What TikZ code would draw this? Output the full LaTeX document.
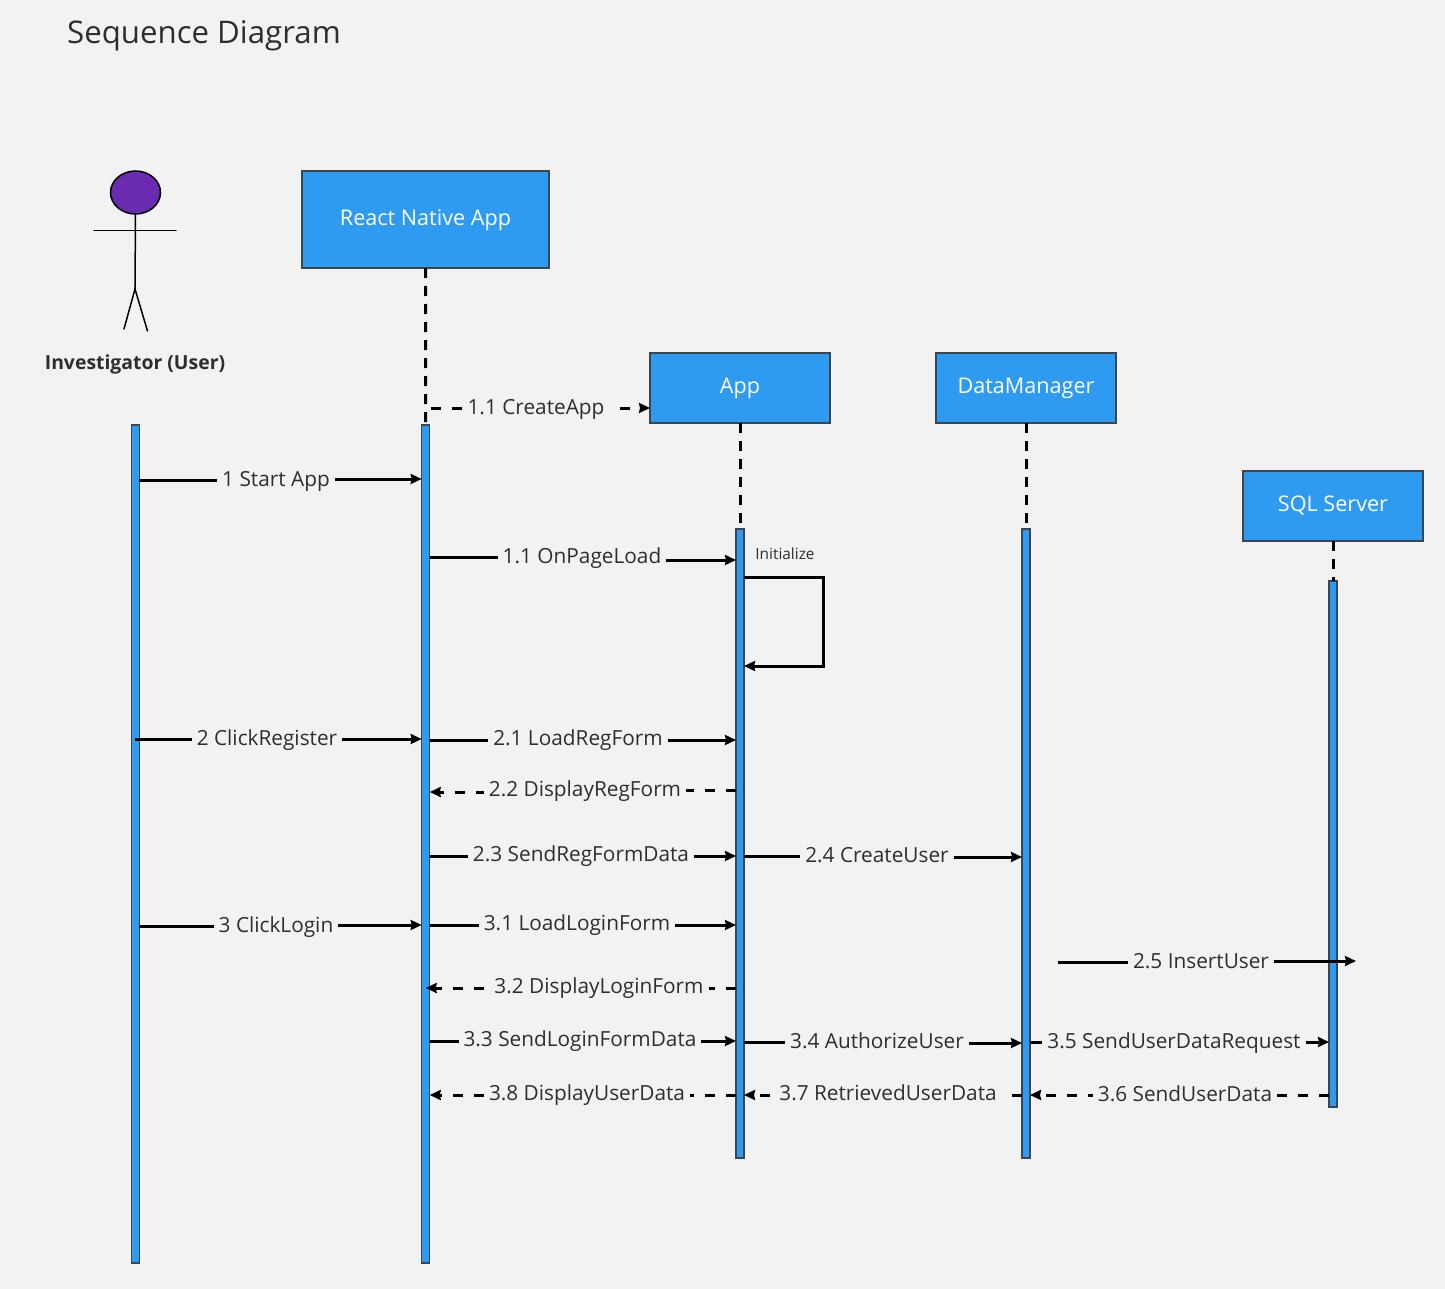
\documentclass[tikz,border=0pt]{standalone}
\usepackage{fontspec}
\setmainfont{Open Sans}
\usetikzlibrary{arrows.meta,shapes.geometric}
\definecolor{pagebg}{HTML}{F2F2F2}
\definecolor{bluefill}{HTML}{2E9AF0}
\definecolor{edgedark}{HTML}{3A4650}
\definecolor{inktext}{HTML}{2E2E2E}
\definecolor{headfill}{HTML}{6A2BB0}
\tikzset{
  head/.style={rectangle,draw=edgedark,line width=1.6pt,fill=bluefill,text=white,outer sep=0pt,inner sep=0pt,anchor=north west,text height=15.5pt,text depth=4pt,font=\fontsize{21.6}{25}\selectfont},
  bar/.style={rectangle,draw=edgedark,line width=1.5pt,fill=bluefill,outer sep=0pt,inner sep=0pt,anchor=north west,minimum width=8pt},
  msgline/.style={line width=3pt,black,-{Stealth[length=11pt,width=10pt,inset=1pt]}},
  retline/.style={msgline,dash pattern=on 10pt off 11pt},
  lifeline/.style={line width=3pt,black,dash pattern=on 10pt off 8pt},
  msglabel/.style={fill=pagebg,text=inktext,inner xsep=5pt,inner ysep=1pt,text height=15pt,text depth=0pt,font=\fontsize{20.8}{24}\selectfont},
  stick/.style={line width=1.5pt,black,line cap=round}
}
% id, from, y-from, to, y-to, label x, label y, style, text
\newcommand{\seqmsg}[9]{%
  \coordinate (m#1) at (#6,#7);
  \coordinate (a#1) at (#2 |- 0,#3);
  \coordinate (b#1) at (#4 |- 0,#5);
  \draw[#8] (a#1) -- (a#1 -| m#1) -- (b#1 -| m#1) -- (b#1);
  \node[msglabel] (lbl#1) at (m#1) {#9};
}
\begin{document}
\begin{tikzpicture}[x=1pt,y=-1pt]
\useasboundingbox (0,0) rectangle (1445,1289);
\fill[pagebg] (0,0) rectangle (1445,1289);

\node[text=inktext,font=\fontsize{31.2}{36}\selectfont,anchor=west,inner sep=0pt,text height=22pt,text depth=0pt] (title) at (67,33) {Sequence Diagram};

% actor
\node[ellipse,draw=black,line width=1.5pt,fill=headfill,minimum width=50pt,minimum height=43pt,inner sep=0pt,outer sep=0pt] (actorhead) at (135.5,192.5) {};
\coordinate (hip) at (135,289);
\coordinate (armL) at (94,230.5);
\coordinate (armR) at (176,230.5);
\coordinate (footL) at (124,329);
\coordinate (footR) at (147.5,331);
\draw[stick] (actorhead.south) -- (hip);
\draw[stick] (armL) -- (armR);
\draw[stick] (footL) -- (hip) -- (footR);
\node[text=inktext,font=\fontsize{19.4}{23}\selectfont\bfseries,text height=14pt,text depth=0pt] (actorname) at (135,362) {Investigator (User)};

% heads
\node[head,minimum width=247pt,minimum height=97pt] (rnhead) at (302,171) {React Native App};
\node[head,minimum width=180pt,minimum height=70pt] (apphead) at (650,353) {App};
\node[head,minimum width=180pt,minimum height=70pt] (dmhead) at (936,353) {DataManager};
\node[head,minimum width=180pt,minimum height=70pt] (sqlhead) at (1243,471) {SQL Server};

% activation bars
\node[bar,minimum height=838pt] (inv) at (131.3,425) {};
\node[bar,minimum height=838pt] (rn) at (421.7,425) {};
\node[bar,minimum height=629pt] (app) at (736,529) {};
\node[bar,minimum height=629pt] (dm) at (1022,529) {};
\node[bar,minimum height=526pt] (sql) at (1329,581) {};

% lifelines
\draw[lifeline] (rnhead.south) -- (rn.north);
\draw[lifeline] (apphead.south) -- (app.north);
\draw[lifeline] (dmhead.south) -- (dm.north);
\draw[lifeline] (sqlhead.south) -- (sql.north);

% free ends
\coordinate (free1) at (1058,962);
\coordinate (free2) at (1356,961);

% messages
\seqmsg{A}{rnhead.south}{408}{apphead.west}{408}{536}{407}{retline,dash phase=16pt}{1.1 CreateApp}
\seqmsg{B}{inv.east}{480.5}{rn.west}{479}{276}{479}{msgline}{1 Start App}
\seqmsg{C}{rn.east}{557.5}{app.west}{560}{582}{556}{msgline}{1.1 OnPageLoad}
\seqmsg{D}{inv.center}{739.5}{rn.west}{739}{267}{738}{msgline}{2 ClickRegister}
\seqmsg{E}{rn.east}{740}{app.west}{740}{578}{738}{msgline}{2.1 LoadRegForm}
\seqmsg{F}{app.west}{790}{rn.east}{792}{585}{789}{retline}{2.2 DisplayRegForm}
\seqmsg{G}{rn.east}{856}{app.west}{856}{581}{854}{msgline}{2.3 SendRegFormData}
\seqmsg{H}{app.east}{856}{dm.west}{857}{877}{855}{msgline}{2.4 CreateUser}
\seqmsg{I}{inv.east}{926}{rn.west}{925}{276}{925}{msgline}{3 ClickLogin}
\seqmsg{J}{rn.east}{925}{app.west}{925}{577}{923}{msgline}{3.1 LoadLoginForm}
\seqmsg{K}{app.west}{988}{rn.center}{988}{599}{986}{retline}{3.2 DisplayLoginForm}
\seqmsg{L}{rn.east}{1041}{app.west}{1041}{580}{1039}{msgline}{3.3 SendLoginFormData}
\seqmsg{M}{app.east}{1042}{dm.west}{1043}{877}{1041}{msgline}{3.4 AuthorizeUser}
\seqmsg{N}{dm.east}{1042}{sql.west}{1042}{1174}{1041}{msgline}{3.5 SendUserDataRequest}
\seqmsg{O}{free1}{962}{free2}{961}{1201}{961}{msgline}{2.5 InsertUser}
\seqmsg{P}{sql.west}{1095}{dm.east}{1095}{1185}{1094}{retline}{3.6 SendUserData}
\seqmsg{Q}{dm.west}{1095}{app.east}{1095}{888}{1093}{retline}{3.7 RetrievedUserData}
\seqmsg{R}{app.west}{1095}{rn.east}{1095}{587}{1093}{retline}{3.8 DisplayUserData}

% self call
\coordinate (selfa) at (app.east |- 0,577);
\coordinate (selfb) at (app.east |- 0,666);
\coordinate (selfc) at (823.5,577);
\draw[msgline] (selfa) -- (selfc) |- (selfb);
\node[text=inktext,font=\fontsize{15.4}{18}\selectfont] (initlabel) at (785,553.5) {Initialize};
\end{tikzpicture}
\end{document}
